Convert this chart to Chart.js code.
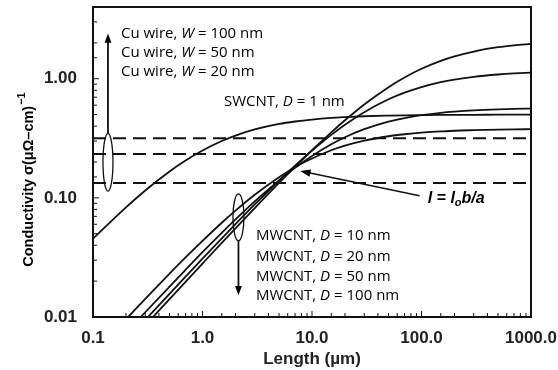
<!DOCTYPE html>
<html>
<head>
<meta charset="utf-8">
<script src="https://cdn.jsdelivr.net/npm/chart.js@4.4.1/dist/chart.umd.min.js"></script>
<style>
  html, body { margin: 0; padding: 0; background: #fff; }
</style>
</head>
<body>
<canvas id="cnt-chart" width="558" height="370"></canvas>
<script>
// lengths in um, conductivity in (uOhm-cm)^-1
const lengths = [0.1, 0.2, 0.3, 0.5, 0.7, 1, 1.5, 2, 3, 5, 7, 10, 15, 20, 30, 50, 70, 100, 150, 200, 300, 500, 700, 1000];
const swcnt1nm = [0.0455, 0.0833, 0.1154, 0.1667, 0.2059, 0.25, 0.30, 0.333, 0.375, 0.417, 0.4375, 0.4545, 0.469, 0.476, 0.484, 0.490, 0.493, 0.495, 0.497, 0.4975, 0.498, 0.499, 0.4993, 0.4995];
const mwcnt10nm = [0.00485, 0.00958, 0.0142, 0.0231, 0.0316, 0.0435, 0.0618, 0.0781, 0.1062, 0.149, 0.181, 0.214, 0.251, 0.274, 0.302, 0.329, 0.342, 0.353, 0.361, 0.366, 0.370, 0.374, 0.376, 0.377];
const mwcnt20nm = [0.0037, 0.00735, 0.01096, 0.0180, 0.0249, 0.0350, 0.0509, 0.0659, 0.0934, 0.140, 0.179, 0.225, 0.282, 0.323, 0.377, 0.436, 0.468, 0.494, 0.517, 0.529, 0.542, 0.553, 0.558, 0.561];
const mwcnt50nm = [0.00317, 0.00631, 0.00945, 0.01566, 0.0218, 0.0309, 0.0457, 0.0602, 0.0880, 0.1397, 0.1866, 0.249, 0.338, 0.411, 0.524, 0.672, 0.764, 0.852, 0.936, 0.984, 1.038, 1.085, 1.107, 1.124];
const mwcnt100nm = [0.00284, 0.00568, 0.00851, 0.01414, 0.01975, 0.0281, 0.0419, 0.0555, 0.0821, 0.1334, 0.182, 0.251, 0.355, 0.448, 0.608, 0.850, 1.025, 1.212, 1.412, 1.540, 1.692, 1.838, 1.908, 1.964];

// Cu wires are flat (no length dependence)
const cuLengths = [0.1, 1000];
const cuW100 = [0.316, 0.316];
const cuW50 = [0.233, 0.233];
const cuW20 = [0.133, 0.133];

const xTickValues = [0.1, 1, 10, 100, 1000];
const xTickLabels = ['0.1', '1.0', '10.0', '100.0', '1000.0'];
const yTickValues = [0.01, 0.1, 1];
const yTickLabels = ['0.01', '0.10', '1.00'];

function pts(xs, ys) {
    return xs.map((v, i) => ({ x: v, y: ys[i] }));
}

function tickLabel(values, labels, v) {
    let i = values.findIndex(t => Math.abs(Math.log10(t) - Math.log10(v)) < 1e-6);
    return i < 0 ? '' : labels[i];
}

function curve(ys) {
    return {
        data: pts(lengths, ys),
        borderColor: '#111',
        borderWidth: 1.8,
        pointRadius: 0,
        cubicInterpolationMode: 'monotone',
        fill: false
    };
}

function cuLine(ys) {
    return {
        data: pts(cuLengths, ys),
        borderColor: '#111',
        borderWidth: 2,
        borderDash: [13, 7],
        pointRadius: 0,
        fill: false
    };
}

function arrow(ctx, x1, y1, x2, y2, head) {
    let ang = Math.atan2(y2 - y1, x2 - x1);
    ctx.beginPath();
    ctx.moveTo(x1, y1);
    ctx.lineTo(x2 - Math.cos(ang) * head * 0.8, y2 - Math.sin(ang) * head * 0.8);
    ctx.stroke();
    ctx.beginPath();
    ctx.moveTo(x2, y2);
    ctx.lineTo(x2 - head * Math.cos(ang - 0.35), y2 - head * Math.sin(ang - 0.35));
    ctx.lineTo(x2 - head * Math.cos(ang + 0.35), y2 - head * Math.sin(ang + 0.35));
    ctx.closePath();
    ctx.fill();
}

// draws text made of pieces with different fonts, left aligned
function richText(ctx, x, y, parts) {
    ctx.textAlign = 'left';
    ctx.textBaseline = 'middle';
    parts.forEach(p => {
        ctx.font = p[1];
        ctx.fillText(p[0], x, y + (p[2] || 0));
        x += ctx.measureText(p[0]).width;
    });
}

const noteFont = '15px "Open Sans"';
const noteItalic = 'italic 15px "Open Sans"';

const notes = {
    id: 'notes',
    afterDatasetsDraw(chart) {
        const { ctx, chartArea: a, scales: { x, y } } = chart;
        const px = v => x.getPixelForValue(v);
        const py = v => y.getPixelForValue(v);
        ctx.save();
        ctx.strokeStyle = '#111';
        ctx.fillStyle = '#000';

        // frame round the plot
        ctx.lineWidth = 2;
        ctx.strokeRect(a.left, a.top, a.right - a.left, a.bottom - a.top);

        // minor and major ticks, inside
        ctx.lineWidth = 1;
        x.ticks.forEach(t => {
            let p = px(t.value);
            let len = tickLabel(xTickValues, xTickLabels, t.value) ? 6 : 4;
            ctx.beginPath(); ctx.moveTo(p, a.bottom); ctx.lineTo(p, a.bottom - len); ctx.stroke();
        });
        y.ticks.forEach(t => {
            let p = py(t.value);
            let len = tickLabel(yTickValues, yTickLabels, t.value) ? 6 : 4;
            ctx.beginPath(); ctx.moveTo(a.left, p); ctx.lineTo(a.left + len, p); ctx.stroke();
        });

        // Cu ellipse + arrow up
        ctx.lineWidth = 1.3;
        let cx = px(0.137);
        ctx.beginPath();
        ctx.ellipse(cx, (py(0.348) + py(0.114)) / 2, 5, (py(0.114) - py(0.348)) / 2, 0, 0, Math.PI * 2);
        ctx.stroke();
        ctx.lineWidth = 1.8;
        arrow(ctx, cx, py(0.348), cx, py(2.4), 10);

        // MWCNT ellipse + arrow down
        ctx.lineWidth = 1.3;
        let mx = px(2.13);
        ctx.beginPath();
        ctx.ellipse(mx, (py(0.108) + py(0.0437)) / 2, 5.5, (py(0.0437) - py(0.108)) / 2, 0, 0, Math.PI * 2);
        ctx.stroke();
        ctx.lineWidth = 1.8;
        arrow(ctx, mx, py(0.0437), mx, py(0.0152), 10);

        // arrow to the crossing point
        ctx.lineWidth = 1.5;
        arrow(ctx, px(96), py(0.104), px(7.8), py(0.168), 11);

        // labels
        let lx = px(0.18);
        richText(ctx, lx, py(2.37), [['Cu wire, ', noteFont], ['W', noteItalic], [' = 100 nm', noteFont]]);
        richText(ctx, lx, py(1.65), [['Cu wire, ', noteFont], ['W', noteItalic], [' = 50 nm', noteFont]]);
        richText(ctx, lx, py(1.14), [['Cu wire, ', noteFont], ['W', noteItalic], [' = 20 nm', noteFont]]);
        richText(ctx, px(1.57), py(0.643), [['SWCNT, ', noteFont], ['D', noteItalic], [' = 1 nm', noteFont]]);
        let nx = px(3.08);
        [[0.048, '10'], [0.0323, '20'], [0.0219, '50'], [0.0152, '100']].forEach(r => {
            richText(ctx, nx, py(r[0]), [['MWCNT, ', noteFont], ['D', noteItalic], [' = ' + r[1] + ' nm', noteFont]]);
        });
        const bi = 'italic bold 16px "Liberation Sans"';
        richText(ctx, px(114), py(0.098), [['l = l', bi], ['o', 'italic bold 11px "Liberation Sans"', 4], ['b/a', bi]]);

        // y axis title with superscript
        ctx.translate(29, (a.top + a.bottom) / 2 + 18);
        ctx.rotate(-Math.PI / 2);
        ctx.font = 'bold 14.5px "Liberation Sans"';
        let main = 'Conductivity σ(μΩ–cm)';
        let w1 = ctx.measureText(main).width;
        ctx.font = 'bold 11px "Liberation Sans"';
        let w2 = ctx.measureText('−1').width;
        let sx = -(w1 + w2) / 2;
        ctx.textAlign = 'left';
        ctx.textBaseline = 'middle';
        ctx.font = 'bold 14.5px "Liberation Sans"';
        ctx.fillText(main, sx, 0);
        ctx.font = 'bold 11px "Liberation Sans"';
        ctx.fillText('−1', sx + w1 + 1, -7);
        ctx.restore();
    }
};

let context = document.querySelector('#cnt-chart').getContext('2d');
new Chart(context, {
    type: 'line',
    data: {
        datasets: [
            cuLine(cuW100),
            cuLine(cuW50),
            cuLine(cuW20),
            curve(swcnt1nm),
            curve(mwcnt10nm),
            curve(mwcnt20nm),
            curve(mwcnt50nm),
            curve(mwcnt100nm)
        ]
    },
    options: {
        responsive: false,
        animation: false,
        layout: { padding: { top: 7, right: 27, left: 0, bottom: 0 } },
        plugins: { legend: { display: false }, tooltip: { enabled: false } },
        scales: {
            x: {
                type: 'logarithmic',
                min: 0.1,
                max: 1000,
                grid: { display: false },
                border: { display: false },
                afterFit: s => { s.height = 53; s.paddingLeft = 0; s.paddingRight = 0; },
                ticks: {
                    autoSkip: false,
                    maxRotation: 0,
                    padding: 3,
                    color: '#222',
                    font: { family: '"Liberation Sans"', size: 17, weight: 'bold' },
                    callback: v => tickLabel(xTickValues, xTickLabels, v)
                },
                title: {
                    display: true,
                    text: 'Length (µm)',
                    color: '#222',
                    padding: { top: 0, bottom: 0 },
                    font: { family: '"Liberation Sans"', size: 17, weight: 'bold' }
                }
            },
            y: {
                type: 'logarithmic',
                min: 0.01,
                max: 4,
                grid: { display: false },
                border: { display: false },
                afterFit: s => { s.width = 93; s.paddingTop = 0; s.paddingBottom = 0; },
                ticks: {
                    autoSkip: false,
                    padding: 8,
                    color: '#222',
                    font: { family: '"Liberation Sans"', size: 17, weight: 'bold' },
                    callback: v => tickLabel(yTickValues, yTickLabels, v)
                }
            }
        }
    },
    plugins: [notes]
});
</script>
</body>
</html>
